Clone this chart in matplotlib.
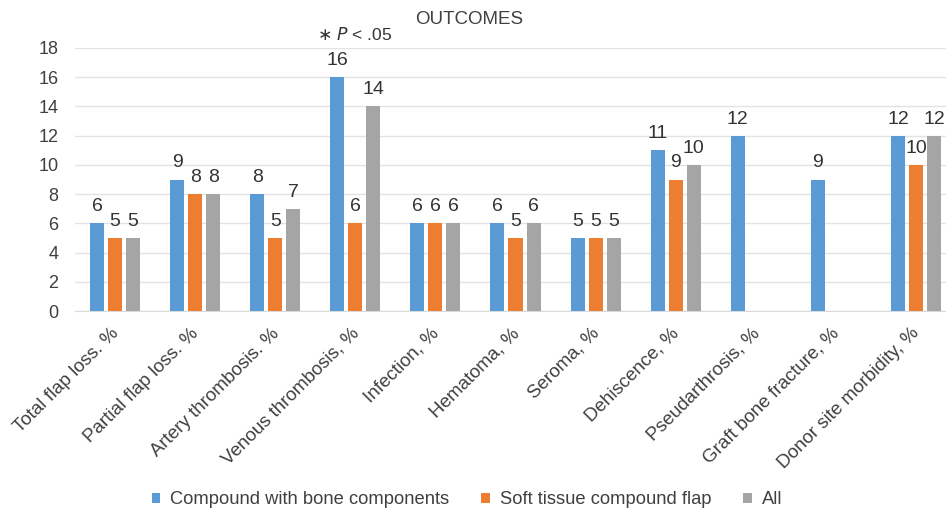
import matplotlib.pyplot as plt
import matplotlib.transforms as mtransforms
import numpy as np

plt.rcParams['font.family'] = ['Liberation Sans', 'DejaVu Sans']

categories = ["Total flap loss. %", "Partial flap loss. %", "Artery thrombosis. %",
              "Venous thrombosis, %", "Infection, %", "Hematoma, %", "Seroma, %",
              "Dehiscence, %", "Pseudarthrosis, %", "Graft bone fracture, %",
              "Donor site morbidity, %"]
series_names = ["Compound with bone components", "Soft tissue compound flap", "All"]
bone = [6, 9, 8, 16, 6, 6, 5, 11, 12, 9, 12]
soft = [5, 8, 5, 6, 6, 5, 5, 9, None, None, 10]
all_ = [5, 8, 7, 14, 6, 6, 5, 10, None, None, 12]
colors = ["#5B9BD5", "#ED7D31", "#A5A5A5"]
yticks = [0, 2, 4, 6, 8, 10, 12, 14, 16, 18]

fig = plt.figure(figsize=(9.46, 5.12), dpi=100)
ax = fig.add_axes([75/946, 1-311/512, 881/946, (311-48)/512])

x = np.arange(len(categories))
width = 0.175
offsets = [-0.225, 0.0, 0.225]
handles = []
for vals, off, col, name in zip([bone, soft, all_], offsets, colors, series_names):
    xs = [xi + off for xi, v in zip(x, vals) if v is not None]
    vs = [v for v in vals if v is not None]
    bars = ax.bar(xs, vs, width, color=col, label=name, zorder=3)
    handles.append(bars)
    for xi, v in zip(xs, vs):
        ax.text(xi, v + 0.55, str(v), ha='center', va='bottom', fontsize=14, color='#333333')

ax.set_xlim(-0.5, len(categories) - 0.5)
ax.set_ylim(0, 18)
ax.set_yticks(yticks)
ax.tick_params(axis='y', length=0, labelsize=13, labelcolor='#404040', pad=12)
ax.tick_params(axis='x', length=0, labelsize=13.5, labelcolor='#404040', pad=10)
ax.set_xticks(x)
ax.set_xticklabels(categories, rotation=45, ha='right', rotation_mode='anchor')
# nudge the rotated labels slightly left
shift = mtransforms.ScaledTranslation(-5/100, 0, fig.dpi_scale_trans)
for lbl in ax.get_xticklabels():
    lbl.set_transform(lbl.get_transform() + shift)
ax.yaxis.grid(True, color='#E3E3E3', linewidth=1, zorder=0)
for s in ['top', 'right', 'left']:
    ax.spines[s].set_visible(False)
ax.spines['bottom'].set_color('#D9D9D9')

fig.text(469/946, 1-19/512, "OUTCOMES", ha='center', va='center', fontsize=13.5, color='#404040')
fig.text(355/946, 1-34/512, r"$\ast$ $\it{P}$ < .05", ha='center', va='center', fontsize=12.5, color='#333333')

fig.legend(handles=handles, labels=series_names, loc='center', bbox_to_anchor=(467/946, 1-500/512),
           ncol=3, frameon=False, fontsize=13.25, handlelength=0.45, handleheight=0.45,
           handletextpad=0.55, columnspacing=1.75, labelcolor='#404040')

fig.savefig("out.png", dpi=100)
